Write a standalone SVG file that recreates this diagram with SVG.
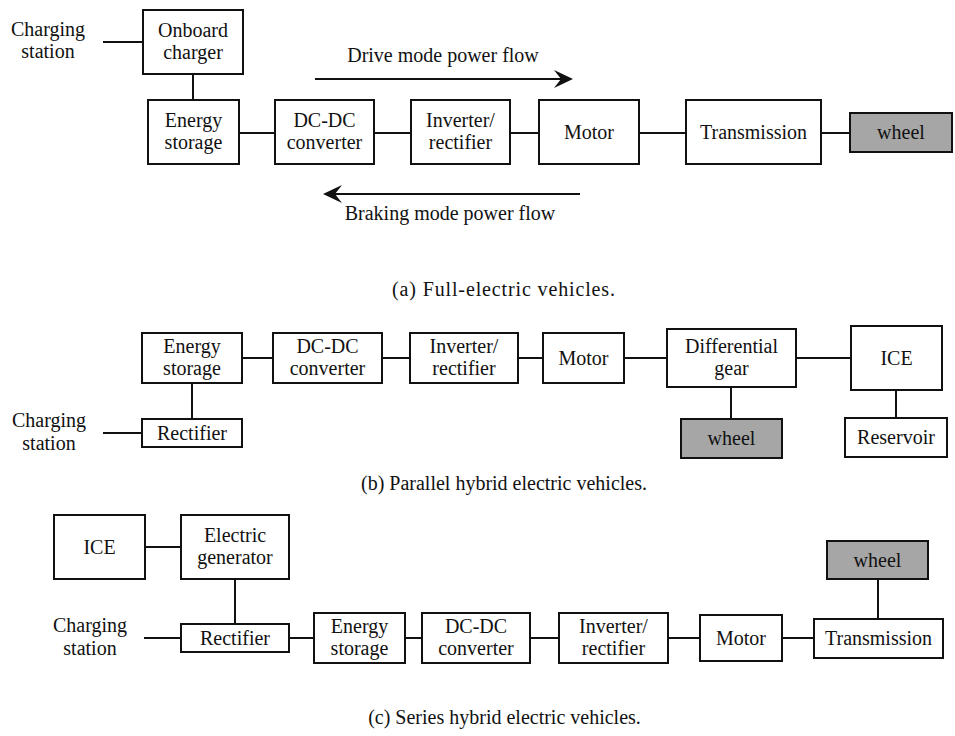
<svg xmlns="http://www.w3.org/2000/svg" width="955" height="736" viewBox="0 0 955 736">
<defs>
<style>
text{font-family:"Liberation Serif","Times New Roman",serif;font-size:20px;fill:#111;text-anchor:middle}
.box{fill:#fff;stroke:#111;stroke-width:2}
.wh{fill:#a6a6a6;stroke:#111;stroke-width:2}
.ln{stroke:#111;stroke-width:2;fill:none}
.ah{fill:#111;stroke:none}
</style>
</defs>
<rect width="955" height="736" fill="#fff"/>

<!-- ===== (a) ===== -->
<g id="a-connectors">
<line class="ln" x1="103" y1="42" x2="143" y2="42"/>
<line class="ln" x1="193" y1="74" x2="193" y2="100"/>
<line class="ln" x1="239" y1="133" x2="275" y2="133"/>
<line class="ln" x1="374" y1="133" x2="411" y2="133"/>
<line class="ln" x1="510" y1="133" x2="539" y2="133"/>
<line class="ln" x1="639" y1="133" x2="686" y2="133"/>
<line class="ln" x1="821" y1="133" x2="850" y2="133"/>
<line class="ln" x1="315" y1="79" x2="562" y2="79"/>
<path class="ah" d="M573,79 L554,70 L561,79 L554,88 Z"/>
<line class="ln" x1="334" y1="194" x2="580" y2="194"/>
<path class="ah" d="M323,194 L342,185 L335,194 L342,203 Z"/>
</g>
<g id="a-charging"><text x="48" y="36">Charging</text><text x="48" y="58">station</text></g>
<g id="a-onboard"><rect class="box" x="143" y="10" width="100" height="64"/><text x="193" y="37">Onboard</text><text x="193" y="59">charger</text></g>
<g id="a-storage"><rect class="box" x="148" y="100" width="91" height="64"/><text x="193.5" y="127">Energy</text><text x="193.5" y="149">storage</text></g>
<g id="a-dcdc"><rect class="box" x="275" y="100" width="99" height="64"/><text x="324.5" y="127">DC-DC</text><text x="324.5" y="149">converter</text></g>
<g id="a-inverter"><rect class="box" x="411" y="100" width="99" height="64"/><text x="460.5" y="127">Inverter/</text><text x="460.5" y="149">rectifier</text></g>
<g id="a-motor"><rect class="box" x="539" y="100" width="100" height="64"/><text x="589" y="139">Motor</text></g>
<g id="a-transmission"><rect class="box" x="686" y="100" width="135" height="64"/><text x="753.5" y="139">Transmission</text></g>
<g id="a-wheel"><rect class="wh" x="850" y="113" width="102" height="39"/><text x="901" y="139">wheel</text></g>
<g id="a-labels">
<text x="443" y="62">Drive mode power flow</text>
<text x="450" y="220">Braking mode power flow</text>
<text x="503.5" y="296" textLength="223" lengthAdjust="spacing">(a) Full-electric vehicles.</text>
</g>

<!-- ===== (b) ===== -->
<g id="b-connectors">
<line class="ln" x1="242" y1="358" x2="273" y2="358"/>
<line class="ln" x1="382" y1="358" x2="410" y2="358"/>
<line class="ln" x1="518" y1="358" x2="543" y2="358"/>
<line class="ln" x1="624" y1="358" x2="667" y2="358"/>
<line class="ln" x1="796" y1="358" x2="851" y2="358"/>
<line class="ln" x1="896" y1="390" x2="896" y2="418"/>
<line class="ln" x1="731" y1="387" x2="731" y2="419"/>
<line class="ln" x1="192" y1="383" x2="192" y2="419"/>
<line class="ln" x1="103" y1="433" x2="142" y2="433"/>
</g>
<g id="b-charging"><text x="49" y="427">Charging</text><text x="49" y="450">station</text></g>
<g id="b-storage"><rect class="box" x="142" y="333" width="100" height="50"/><text x="192" y="353">Energy</text><text x="192" y="375">storage</text></g>
<g id="b-dcdc"><rect class="box" x="273" y="333" width="109" height="50"/><text x="327.5" y="353">DC-DC</text><text x="327.5" y="375">converter</text></g>
<g id="b-inverter"><rect class="box" x="410" y="333" width="108" height="50"/><text x="464" y="353">Inverter/</text><text x="464" y="375">rectifier</text></g>
<g id="b-motor"><rect class="box" x="543" y="333" width="81" height="50"/><text x="583.5" y="365">Motor</text></g>
<g id="b-differential"><rect class="box" x="667" y="329" width="129" height="58"/><text x="731.5" y="353">Differential</text><text x="731.5" y="375">gear</text></g>
<g id="b-ice"><rect class="box" x="851" y="326" width="91" height="64"/><text x="896.5" y="365">ICE</text></g>
<g id="b-reservoir"><rect class="box" x="845" y="418" width="102" height="39"/><text x="896" y="444">Reservoir</text></g>
<g id="b-wheel"><rect class="wh" x="681" y="419" width="101" height="39"/><text x="731.5" y="445">wheel</text></g>
<g id="b-rectifier"><rect class="box" x="142" y="419" width="100" height="28"/><text x="192" y="440">Rectifier</text></g>
<g id="b-caption"><text x="504" y="490">(b) Parallel hybrid electric vehicles.</text></g>

<!-- ===== (c) ===== -->
<g id="c-connectors">
<line class="ln" x1="145" y1="547" x2="181" y2="547"/>
<line class="ln" x1="235" y1="579" x2="235" y2="624"/>
<line class="ln" x1="144" y1="638" x2="181" y2="638"/>
<line class="ln" x1="289" y1="638" x2="314" y2="638"/>
<line class="ln" x1="405" y1="638" x2="422" y2="638"/>
<line class="ln" x1="530" y1="638" x2="559" y2="638"/>
<line class="ln" x1="668" y1="638" x2="700" y2="638"/>
<line class="ln" x1="782" y1="638" x2="814" y2="638"/>
<line class="ln" x1="878" y1="579" x2="878" y2="619"/>
</g>
<g id="c-ice"><rect class="box" x="54" y="515" width="91" height="64"/><text x="99.5" y="554">ICE</text></g>
<g id="c-generator"><rect class="box" x="181" y="515" width="108" height="64"/><text x="235" y="542">Electric</text><text x="235" y="564">generator</text></g>
<g id="c-charging"><text x="90" y="632">Charging</text><text x="90" y="655">station</text></g>
<g id="c-rectifier"><rect class="box" x="181" y="624" width="108" height="28"/><text x="235" y="645">Rectifier</text></g>
<g id="c-storage"><rect class="box" x="314" y="613" width="91" height="50"/><text x="359.5" y="633">Energy</text><text x="359.5" y="655">storage</text></g>
<g id="c-dcdc"><rect class="box" x="422" y="613" width="108" height="50"/><text x="476" y="633">DC-DC</text><text x="476" y="655">converter</text></g>
<g id="c-inverter"><rect class="box" x="559" y="613" width="109" height="50"/><text x="613.5" y="633">Inverter/</text><text x="613.5" y="655">rectifier</text></g>
<g id="c-motor"><rect class="box" x="700" y="615" width="82" height="46"/><text x="741" y="645">Motor</text></g>
<g id="c-transmission"><rect class="box" x="814" y="619" width="129" height="39"/><text x="878.5" y="645">Transmission</text></g>
<g id="c-wheel"><rect class="wh" x="827" y="541" width="101" height="38"/><text x="877.5" y="567">wheel</text></g>
<g id="c-caption"><text x="504.5" y="724">(c) Series hybrid electric vehicles.</text></g>
</svg>
